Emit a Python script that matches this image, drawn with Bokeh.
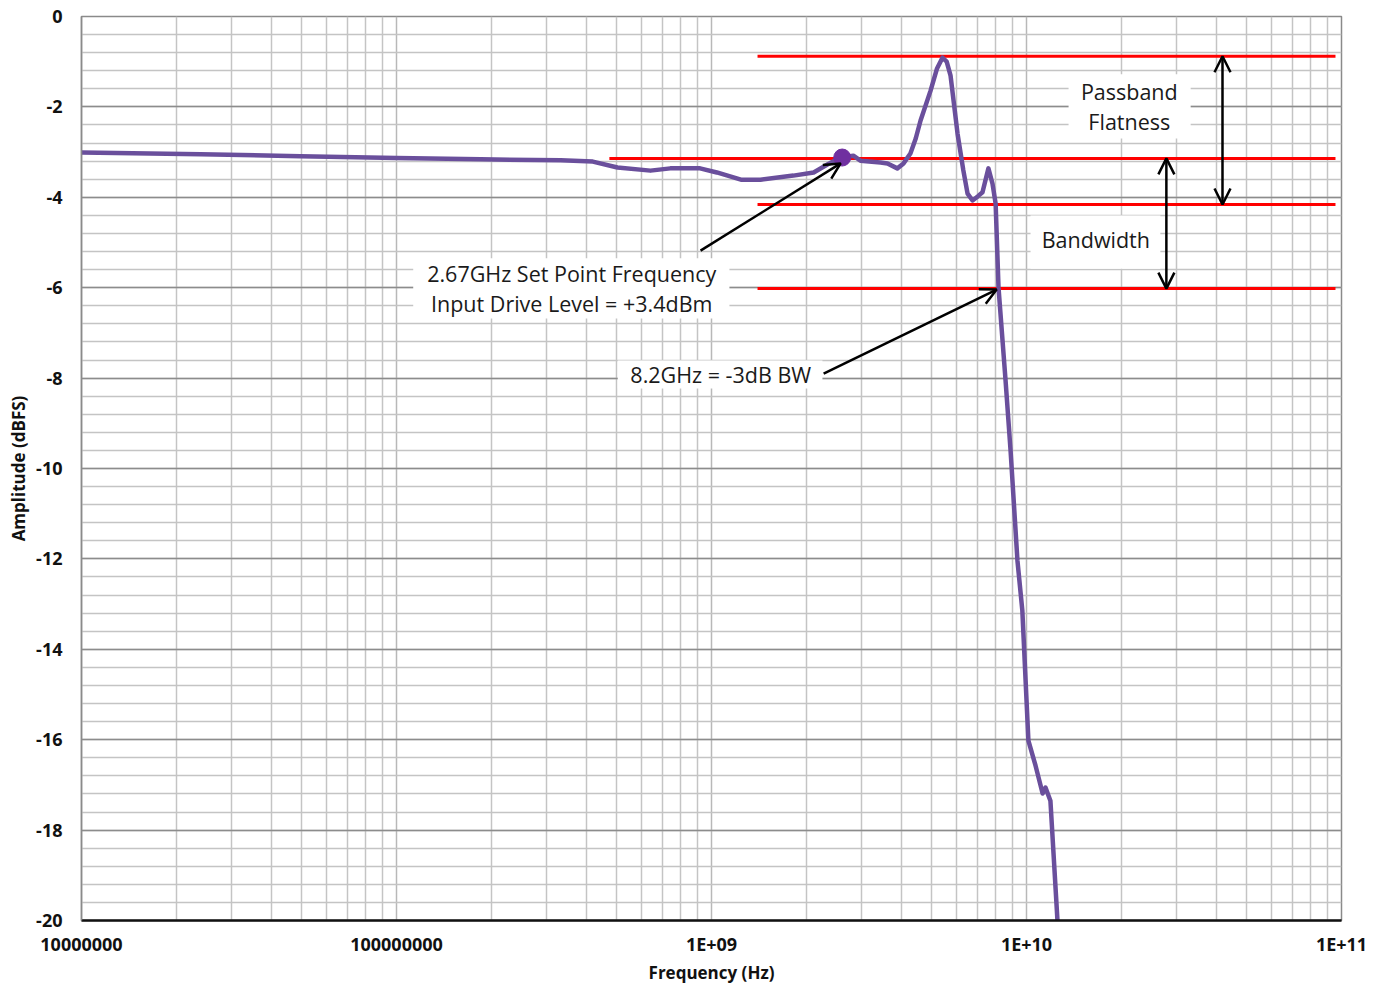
from bokeh.plotting import figure
from bokeh.models import (Range1d, FixedTicker, Arrow, OpenHead, Label,
                          BoxAnnotation, ColumnDataSource)
from bokeh.embed import file_html
from bokeh.resources import INLINE

# ---- data -------------------------------------------------------------
freq_hz = [1.0e7, 2.39e7, 4.96e7, 1.0e8, 1.85e8, 3.32e8, 4.2e8, 5.03e8, 6.4e8,
           7.4e8, 9.2e8, 1.04e9, 1.24e9, 1.43e9, 1.82e9, 2.11e9, 2.34e9, 2.57e9,
           2.82e9, 2.97e9, 3.44e9, 3.62e9, 3.89e9, 4.07e9, 4.28e9, 4.45e9, 4.61e9,
           4.96e9, 5.20e9, 5.41e9, 5.58e9, 5.74e9, 6.04e9, 6.30e9, 6.50e9, 6.74e9,
           7.00e9, 7.25e9, 7.57e9, 7.80e9, 7.98e9, 8.15e9, 8.58e9, 8.90e9, 9.36e9,
           9.70e9, 1.014e10, 1.068e10, 1.125e10, 1.149e10, 1.191e10, 1.254e10]
amp_dbfs = [-3.01, -3.05, -3.09, -3.13, -3.16, -3.18, -3.21, -3.34, -3.41,
            -3.36, -3.36, -3.45, -3.61, -3.61, -3.52, -3.45, -3.27, -3.12,
            -3.08, -3.19, -3.23, -3.25, -3.36, -3.25, -3.03, -2.70, -2.30,
            -1.64, -1.15, -0.91, -1.00, -1.31, -2.59, -3.40, -3.92, -4.07,
            -3.98, -3.89, -3.36, -3.70, -4.14, -6.00,
            -8.05, -9.60, -12.04, -13.14, -16.02, -16.57, -17.19, -17.06,
            -17.35, -20.0]

set_point_hz = [2.6e9]
set_point_db = [-3.12]

ref_levels_db = [-0.88, -3.14, -4.16, -6.02]
ref_start_hz = [1.4e9, 4.74e8, 1.4e9, 1.4e9]
ref_end_hz = [9.57e10, 9.57e10, 9.57e10, 9.57e10]

x_ticks = [1e7, 1e8, 1e9, 1e10, 1e11]
x_tick_labels = ["10000000", "100000000", "1E+09", "1E+10", "1E+11"]
y_ticks = list(range(-20, 1, 2))
y_tick_labels = [str(v) for v in y_ticks]

FONT = "Open Sans"

# ---- figure -----------------------------------------------------------
p = figure(width=1370, height=986, x_axis_type="log",
           x_range=Range1d(1e7, 1e11), y_range=Range1d(-20, 0),
           output_backend="svg", toolbar_location=None,
           min_border_left=81, min_border_right=29,
           min_border_top=16, min_border_bottom=66)
p.background_fill_color = "white"
p.outline_line_color = "#8a8a8a"
p.outline_line_width = 1.5

x_minor = [k * 10 ** e for e in range(7, 11) for k in range(2, 10)]
p.xaxis.ticker = FixedTicker(ticks=x_ticks, minor_ticks=x_minor)
p.xaxis.major_label_overrides = {t: l for t, l in zip(x_ticks, x_tick_labels)}
y_minor = [round(-20 + 0.4 * i, 2) for i in range(51)]
p.yaxis.ticker = FixedTicker(ticks=y_ticks, minor_ticks=y_minor)
p.yaxis.major_label_overrides = {t: l for t, l in zip(y_ticks, y_tick_labels)}

p.xgrid.grid_line_color = "#b8b8b8"
p.xgrid.grid_line_width = 1.5
p.xgrid.minor_grid_line_color = "#c4c4c4"
p.xgrid.minor_grid_line_width = 1.5
p.ygrid.grid_line_color = "#8c8c8c"
p.ygrid.grid_line_width = 1.5
p.ygrid.minor_grid_line_color = "#c4c4c4"
p.ygrid.minor_grid_line_width = 1.5

for ax in (p.xaxis, p.yaxis):
    ax.major_tick_line_color = None
    ax.minor_tick_line_color = None
    ax.major_tick_out = 0
    ax.minor_tick_out = 0
    ax.major_label_text_font = FONT
    ax.major_label_text_font_style = "bold"
    ax.major_label_text_font_size = "18px"
    ax.major_label_text_color = "#111111"
    ax.axis_label_text_font = FONT
    ax.axis_label_text_font_style = "bold"
    ax.axis_label_text_font_size = "17px"
    ax.axis_label_text_color = "#111111"

p.xaxis.axis_line_color = "#111111"
p.xaxis.axis_line_width = 2.5
p.xaxis.major_label_standoff = 11
p.xaxis.axis_label = "Frequency (Hz)"
p.xaxis.axis_label_standoff = 2
p.yaxis.axis_line_color = "#8a8a8a"
p.yaxis.axis_line_width = 1.5
p.yaxis.major_label_standoff = 19
p.yaxis.axis_label = "Amplitude (dBFS)"
p.yaxis.axis_label_standoff = 3

# ---- reference lines --------------------------------------------------
p.segment(x0=ref_start_hz, x1=ref_end_hz, y0=ref_levels_db, y1=ref_levels_db,
          line_color="#ff0000", line_width=3)

# ---- curve ------------------------------------------------------------
src = ColumnDataSource(dict(f=freq_hz, a=amp_dbfs))
p.line("f", "a", source=src, line_color="#6a4f9c", line_width=4.5,
       line_join="round")
p.scatter(set_point_hz, set_point_db, size=17, fill_color="#7030a0",
          line_color="#7030a0")

# ---- annotations ------------------------------------------------------
def box(l, r, b, t):
    p.add_layout(BoxAnnotation(left=l, right=r, bottom=b, top=t,
                               fill_color="white", fill_alpha=1.0,
                               line_color=None, level="underlay"))

box(1.13e8, 1.14e9, -6.68, -5.35)
box(5.04e8, 2.25e9, -8.23, -7.61)
box(1.36e10, 3.32e10, -2.70, -1.28)
box(1.03e10, 2.66e10, -5.58, -4.40)

def label(x, y, text):
    p.add_layout(Label(x=x, y=y, text=text, text_font=FONT,
                       text_font_size="21.5px", text_color="#1a1a1a",
                       text_align="center", text_baseline="middle"))

label(3.6e8, -5.69, "2.67GHz Set Point Frequency")
label(3.6e8, -6.35, "Input Drive Level = +3.4dBm")
label(1.07e9, -7.92, "8.2GHz = -3dB BW")
label(2.12e10, -1.66, "Passband")
label(2.12e10, -2.32, "Flatness")
label(1.66e10, -4.93, "Bandwidth")

def arrow(x0, y0, x1, y1, both=False):
    head = OpenHead(size=16, line_width=2.5, line_color="black")
    kw = dict(end=head, x_start=x0, y_start=y0, x_end=x1, y_end=y1,
              line_color="black", line_width=2.5)
    if both:
        kw["start"] = OpenHead(size=16, line_width=2.5, line_color="black")
    p.add_layout(Arrow(**kw))

arrow(9.23e8, -5.18, 2.57e9, -3.25)
arrow(2.27e9, -7.90, 8.04e9, -6.04)
arrow(4.19e10, -0.88, 4.19e10, -4.16, both=True)
arrow(2.78e10, -3.14, 2.78e10, -6.02, both=True)

open("out.html", "w").write(file_html(p, INLINE))
